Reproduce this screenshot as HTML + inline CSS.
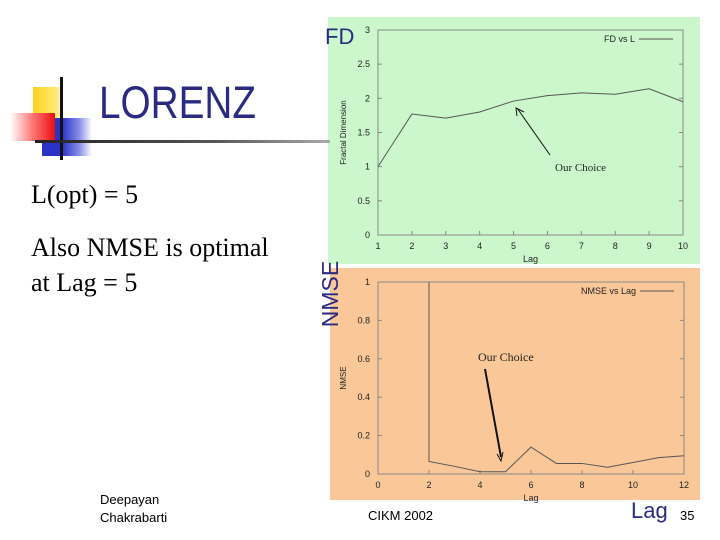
<!DOCTYPE html>
<html><head><meta charset="utf-8"><style>
body{margin:0;width:720px;height:540px;background:#fff;position:relative;overflow:hidden;font-family:"Liberation Sans",sans-serif}
.a{position:absolute;white-space:nowrap}
.serif{font-family:"Liberation Serif",serif;color:#000}
.top{z-index:2}
</style></head><body>
<svg class="a" style="left:0;top:0;z-index:0" width="720" height="540">
<rect x="328" y="17" width="372" height="247" fill="#ccf7cc"/>
<rect x="330" y="268" width="370" height="232" fill="#fac898"/>
<g id="g1"></g>
<g id="g2"></g>
</svg>
<div class="a" style="left:33px;top:87px;width:30px;height:32px;background:linear-gradient(90deg,#ffd21a,#ffe97a 80%,#fff)"></div>
<div class="a" style="left:42px;top:118px;width:50px;height:38px;background:linear-gradient(90deg,#2b32c8 40%,#8a90e8 75%,#fff)"></div>
<div class="a" style="left:10px;top:113px;width:45px;height:28px;background:linear-gradient(90deg,#fff,#f77 50%,#e81010)"></div>
<div class="a" style="left:60px;top:77px;width:3px;height:83px;background:#111"></div>
<div class="a" style="left:35px;top:140px;width:295px;height:3px;background:linear-gradient(90deg,#222,#555 60%,#aaa)"></div>
<div class="a" style="left:99px;top:77px;font-size:45px;color:#2a2a80;transform:scaleX(0.86);transform-origin:left">LORENZ</div>
<div class="a serif" style="left:31px;top:180px;font-size:26px">L(opt) = 5</div>
<div class="a serif" style="left:31px;top:230px;font-size:26px;line-height:35px">Also NMSE is optimal<br>at Lag = 5</div>
<div class="a top" style="left:325px;top:24px;font-size:22px;color:#2a2a80">FD</div>
<div class="a top" style="left:297px;top:281px;font-size:23px;line-height:26px;color:#2a2a80;transform:rotate(-90deg);transform-origin:center">NMSE</div>
<div class="a" style="left:100px;top:491px;font-size:13px;line-height:18px">Deepayan<br>Chakrabarti</div>
<div class="a" style="left:368px;top:508px;font-size:13px">CIKM 2002</div>
<div class="a top" style="left:631px;top:498px;font-size:22px;color:#2a2a80">Lag</div>
<div class="a" style="left:680px;top:508px;font-size:13px">35</div>
<script>
const fdLags=[1,2,3,4,5,6,7,8,9,10];
const fdValues=[1.0,1.77,1.71,1.80,1.96,2.04,2.08,2.06,2.14,1.95];
const fdXTicks=[1,2,3,4,5,6,7,8,9,10];
const fdYTicks=[0,0.5,1,1.5,2,2.5,3];
const nmseLags=[2,2,3,4,5,6,7,8,9,10,11,12];
const nmseValues=[1,0.065,0.04,0.012,0.012,0.14,0.055,0.055,0.035,0.06,0.085,0.095];
const nmseXTicks=[0,2,4,6,8,10,12];
const nmseYTicks=[0,0.2,0.4,0.6,0.8,1];
const NS='http://www.w3.org/2000/svg';
function mk(p,t,at,txt){const e=document.createElementNS(NS,t);for(const k in at)e.setAttribute(k,at[k]);if(txt!==undefined)e.textContent=txt;p.appendChild(e);return e;}
function chart(g,o){
  const sx=v=>o.x0+(v-o.xmin)/(o.xmax-o.xmin)*(o.x1-o.x0);
  const sy=v=>o.y0-(v-o.ymin)/(o.ymax-o.ymin)*(o.y0-o.y1);
  const fr=mk(g,'rect',{x:o.x0,y:o.y1,width:o.x1-o.x0,height:o.y0-o.y1,fill:'none',stroke:'#888','stroke-width':1});
  
  o.xt.forEach(v=>{const t=mk(g,'text',{x:sx(v),y:o.y0+14,'font-size':9,'text-anchor':'middle',fill:'#222'},String(v));
    
    mk(g,'line',{x1:sx(v),x2:sx(v),y1:o.y0,y2:o.y0-4,stroke:'#888'});});
  o.yt.forEach(v=>{const t=mk(g,'text',{x:o.x0-8,y:sy(v)+3,'font-size':9,'text-anchor':'end',fill:'#222'},String(v));
    
    mk(g,'line',{x1:o.x0,x2:o.x0+4,y1:sy(v),y2:sy(v),stroke:'#888'});
    mk(g,'line',{x1:o.x1,x2:o.x1-4,y1:sy(v),y2:sy(v),stroke:'#888'});});
  const xl=mk(g,'text',{x:(o.x0+o.x1)/2,y:o.y0+27,'font-size':9,'text-anchor':'middle',fill:'#222'},'Lag');
  
  const cy=(o.y0+o.y1)/2;
  const yl=mk(g,'text',{x:o.x0-32,y:cy,'font-size':8,'text-anchor':'middle',fill:'#222',transform:`rotate(-90 ${o.x0-32} ${cy})`},o.ylab);
  
  const pts=o.xs.map((x,i)=>sx(x)+','+sy(o.ys[i])).join(' ');
  const pl=mk(g,'polyline',{points:pts,fill:'none',stroke:'#555','stroke-width':1});
  
  const lt=mk(g,'text',{x:o.x1-48,y:o.y1+12,'font-size':9,'text-anchor':'end',fill:'#222'},o.leg);
  
  mk(g,'line',{x1:o.x1-44,x2:o.x1-10,y1:o.y1+9,y2:o.y1+9,stroke:'#555'});
  return {sx,sy};
}
const a=chart(document.getElementById('g1'),{x0:378,x1:683,y0:235,y1:30,xmin:1,xmax:10,ymin:0,ymax:3,xt:fdXTicks,yt:fdYTicks,xs:fdLags,ys:fdValues,ylab:'Fractal Dimension',leg:'FD vs L'});
const b=chart(document.getElementById('g2'),{x0:378,x1:684,y0:474,y1:282,xmin:0,xmax:12,ymin:0,ymax:1,xt:nmseXTicks,yt:nmseYTicks,xs:nmseLags,ys:nmseValues,ylab:'NMSE',leg:'NMSE vs Lag'});
const g1=document.getElementById('g1'),g2=document.getElementById('g2');
mk(g1,'line',{x1:550,x2:517,y1:155,y2:108,stroke:'#111','stroke-width':1});
mk(g1,'polyline',{points:'517,116 516,108 524,112',fill:'none',stroke:'#111'});
const c1=mk(g1,'text',{x:555,y:171,'font-size':11,'font-family':'Liberation Serif',fill:'#222'},'Our Choice');

mk(g2,'line',{x1:485,x2:501,y1:369,y2:457,stroke:'#111','stroke-width':2});
mk(g2,'polyline',{points:'497,454 501,461 503,452',fill:'none',stroke:'#111'});
const c2=mk(g2,'text',{x:478,y:361,'font-size':12,'font-family':'Liberation Serif',fill:'#222'},'Our Choice');

</script>
</body></html>
